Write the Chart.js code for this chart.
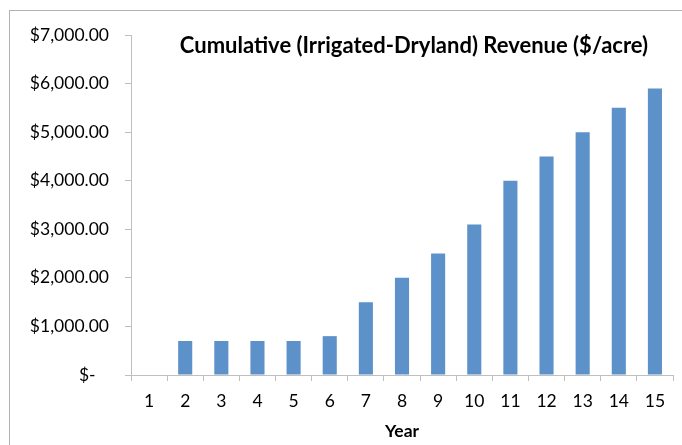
<!DOCTYPE html>
<html>
<head>
<meta charset="utf-8">
<script src="https://cdn.jsdelivr.net/npm/chart.js@4/dist/chart.umd.min.js"></script>
<style>
    html, body { margin: 0; padding: 0; background: #fff; }
    #wrap { width: 682px; height: 445px; position: relative; }
</style>
</head>
<body>
<div id="wrap"><canvas id="out"></canvas></div>
<script>
const years = ["1", "2", "3", "4", "5", "6", "7", "8", "9", "10", "11", "12", "13", "14", "15"];
const revenue = [0, 700, 700, 700, 700, 800, 1500, 2000, 2500, 3100, 4000, 4500, 5000, 5500, 5900];
const chartTitle = "Cumulative (Irrigated-Dryland) Revenue ($/acre)";
const xTitle = "Year";

const fontFamily = "Lato, 'Open Sans', sans-serif";
const axisGray = "#bfbfbf";

function money(v) {
    if (v === 0) return "$-   ";
    return "$" + v.toLocaleString("en-US", { minimumFractionDigits: 2, maximumFractionDigits: 2 });
}

// frame round the chart plus the title sitting inside the plot area
const decorations = {
    id: "decorations",
    beforeDraw(chart) {
        const ctx = chart.ctx;
        ctx.save();
        ctx.strokeStyle = "#b3b3b3";
        ctx.lineWidth = 1;
        ctx.strokeRect(9.5, 10.5, chart.width, chart.height);
        ctx.restore();
    },
    afterDraw(chart) {
        const ctx = chart.ctx;
        ctx.save();
        ctx.font = "bold 22px " + fontFamily;
        ctx.fillStyle = "#000";
        ctx.textAlign = "center";
        ctx.textBaseline = "middle";
        ctx.fillText(chartTitle, 414, 46);
        ctx.restore();
    }
};

const canvasCtx = document.getElementById("out").getContext("2d");
new Chart(canvasCtx, {
    type: "bar",
    data: {
        labels: years,
        datasets: [{
            data: revenue,
            backgroundColor: "#5d91c9",
            categoryPercentage: 1,
            barPercentage: 0.39
        }]
    },
    options: {
        responsive: true,
        maintainAspectRatio: false,
        animation: false,
        layout: { padding: { top: 35, right: 9, left: 0, bottom: 0 } },
        plugins: {
            legend: { display: false },
            tooltip: { enabled: false }
        },
        scales: {
            x: {
                grid: { display: true, drawOnChartArea: false, offset: true, color: axisGray, tickLength: 6 },
                border: { display: true, color: axisGray },
                ticks: { color: "#000", font: { family: fontFamily, size: 17.5 }, padding: 10, maxRotation: 0 },
                title: { display: true, text: xTitle, color: "#000", font: { family: fontFamily, size: 17.5, weight: "bold" }, padding: { top: 0, bottom: 3 } },
                afterFit(scale) { scale.height = 70; }
            },
            y: {
                min: 0,
                max: 7000,
                grid: { display: true, drawOnChartArea: false, color: axisGray, tickLength: 6 },
                border: { display: true, color: axisGray },
                ticks: { stepSize: 1000, color: "#000", font: { family: fontFamily, size: 17.5 }, padding: 16, callback: v => money(v) },
                afterFit(scale) { scale.width = 131; }
            }
        }
    },
    plugins: [decorations]
});
</script>
</body>
</html>
